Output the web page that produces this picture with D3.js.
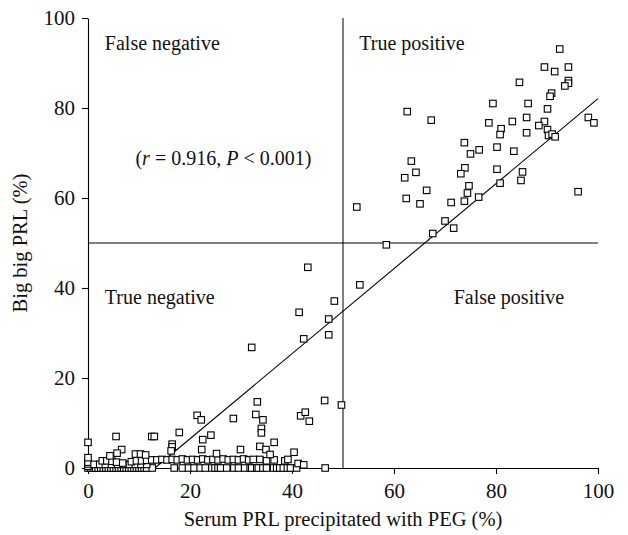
<!DOCTYPE html>
<html>
<head>
<meta charset="utf-8">
<script src="https://cdn.jsdelivr.net/npm/d3@7"></script>
<style>
  body { margin: 0; background: #fff; }
  svg { display: block; font-family: "Liberation Serif", "DejaVu Serif", serif; }
</style>
</head>
<body>
<svg id="chart" width="628" height="535"></svg>
<script>
// ---- data ----
// Serum PRL precipitated with PEG (%)
const pegValues = [
  // y = 0 row
  0,0.5,1,1.5,2,2.5,3,3.5,4,4.5,5,5.5,6,6.5,7,7.5,8,8.5,9,9.5,10,10.5,11,11.5,12.6,
  16.9,18.5,19.7,20.8,22.0,23.0,24.3,24.9,25.5,26.0,27.2,28.6,29.5,30.7,31.8,32.1,33.1,33.4,34.3,35.0,36.4,37.0,37.6,38.3,39.1,39.7,40.9,46.5,
  // y ~ 0.8 band
  0,0,0,1.2,2.3,3.4,4.6,5.8,7.0,8.1,9.3,10.4,11.5,
  // y ~ 1.6-2 row
  2.8,3.7,4.7,5.6,6.8,8.5,9.5,10.5,11.5,12.5,13.5,14.5,15.5,16.5,17.5,18.5,19.5,20.5,21.5,22.5,23.5,24.5,25.5,26.5,27.5,28.5,29.5,30.5,31.5,32.4,33.7,35.0,36.5,38.6,39.2,41.2,
  // scattered low values
  0,0,5.5,12.5,13.0,17.9,21.4,22.2,16.5,16.5,16.3,22.5,24.1,22.3,6.6,5.7,4.3,9.3,10.3,11.3,28.5,33.2,32.9,34.3,34.0,34.0,41.7,42.6,43.4,46.4,49.7,29.9,36.5,33.7,34.9,35.7,40.4,25.2,42.3,
  // mid values
  43.1,48.3,41.4,47.2,42.3,47.2,32.1,53.3,
  // high values
  92.5,89.5,91.5,94.2,94.2,94.2,93.5,84.6,90.9,90.6,79.4,86.3,90.1,62.6,67.3,98.1,99.2,78.6,83.2,86.0,
  89.5,88.4,81.0,80.8,86.0,90.1,90.3,91.0,91.6,73.8,76.7,75.0,80.2,83.5,63.4,64.3,62.1,73.9,73.1,80.2,
  85.2,84.9,80.8,74.7,74.4,66.4,76.6,62.4,65.1,71.2,73.8,96.1,52.7,70.0,71.7,67.6,58.5
];
// Big big PRL (%)
const bigBigValues = [
  0,0,0,0,0,0,0,0,0,0,0,0,0,0,0,0,0,0,0,0,0,0,0,0,0,
  0,0,0,0,0,0,0,0,0,0,0,0,0,0,0,0,0,0,0,0,0,0,0,0,0,0,0,0,
  0.4,0.9,1.3,0.8,0.8,0.8,0.8,0.8,0.8,0.8,0.8,0.8,0.8,
  1.6,1.6,1.5,1.3,1.1,1.4,1.6,1.6,1.7,1.8,1.8,1.9,1.8,1.9,1.8,2.0,1.8,1.9,1.8,2.0,1.8,1.9,1.8,2.0,1.8,1.9,1.8,2.0,1.8,1.9,1.9,1.6,1.8,1.6,1.9,1.0,
  5.7,2.3,7.0,7.0,7.0,7.9,11.7,10.7,5.3,4.7,3.8,6.3,7.3,4.1,4.1,3.3,2.7,3.1,3.1,2.9,11.0,14.7,11.9,10.7,8.8,7.8,11.6,12.4,10.4,15.0,14.0,4.1,5.7,4.8,4.1,3.0,3.5,3.2,0.7,
  44.6,37.1,34.6,33.1,28.7,29.6,26.8,40.7,
  93.1,89.1,88.1,89.1,86.1,85.5,84.9,85.7,83.3,82.6,81.0,81.0,79.8,79.2,77.3,77.9,76.7,76.7,77.0,77.9,
  77.0,76.1,75.4,74.1,74.5,75.2,73.9,74.2,73.6,72.3,70.7,69.8,71.3,70.4,68.2,65.7,64.5,66.7,65.4,66.4,
  65.8,63.9,63.3,62.7,61.1,61.7,60.2,59.9,58.7,59.0,59.3,61.4,58.0,54.9,53.3,52.1,49.6
];
// regression line (fitted): y = slope * x + intercept
const regression = { slope: 0.945, intercept: -12.4 };
const cutoff = 50;
const xTicks = [0, 20, 40, 60, 80, 100];
const yTicks = [0, 20, 40, 60, 80, 100];
const quadrantLabels = ["False negative", "True positive", "True negative", "False positive"];
const xTitle = "Serum PRL precipitated with PEG (%)";
const yTitle = "Big big PRL (%)";

// ---- drawing ----
const margin = { left: 88, top: 18, right: 30, bottom: 67 };
const W = 628, H = 535;
const iw = W - margin.left - margin.right;   // 510
const ih = H - margin.top - margin.bottom;   // 450

const svg = d3.select("#chart");
const g = svg.append("g").attr("transform", `translate(${margin.left},${margin.top})`);

const x = d3.scaleLinear().domain([0, 100]).range([0, iw]);
const y = d3.scaleLinear().domain([0, 100]).range([ih, 0]);

// quadrant lines
g.append("line").attr("x1", x(cutoff)).attr("x2", x(cutoff)).attr("y1", y(0)).attr("y2", y(100))
  .attr("stroke", "#000").attr("stroke-width", 1);
g.append("line").attr("x1", x(0)).attr("x2", x(100)).attr("y1", y(cutoff)).attr("y2", y(cutoff))
  .attr("stroke", "#000").attr("stroke-width", 1);

// regression line
const x0 = -regression.intercept / regression.slope;
g.append("line")
  .attr("x1", x(x0)).attr("y1", y(0))
  .attr("x2", x(100)).attr("y2", y(regression.slope * 100 + regression.intercept))
  .attr("stroke", "#000").attr("stroke-width", 1.1);

// axes
const xAxis = g.append("g").attr("transform", `translate(0,${ih})`)
  .call(d3.axisBottom(x).tickValues(xTicks).tickSize(6).tickSizeOuter(0).tickPadding(9));
const yAxis = g.append("g")
  .call(d3.axisLeft(y).tickValues(yTicks).tickSize(6).tickSizeOuter(0).tickPadding(7));
[xAxis, yAxis].forEach(a => {
  a.selectAll("path, line").attr("stroke", "#000").attr("stroke-width", 1.1);
  a.selectAll("text").attr("fill", "#111").style("font-family", "Liberation Serif, serif").style("font-size", "21px");
});

// points
const pts = pegValues.map((v, i) => [v, bigBigValues[i]]);
const s = 6.5;
g.append("g").selectAll("rect").data(pts).join("rect")
  .attr("x", d => x(d[0]) - s / 2)
  .attr("y", d => y(d[1]) - s / 2)
  .attr("width", s).attr("height", s)
  .attr("fill", "#fff").attr("stroke", "#000").attr("stroke-width", 1.1);

// quadrant labels
const lab = [
  { t: quadrantLabels[0], vx: 3.3, vy: 93 },
  { t: quadrantLabels[1], vx: 53.2, vy: 93 },
  { t: quadrantLabels[2], vx: 3.3, vy: 36.5 },
  { t: quadrantLabels[3], vx: 71.7, vy: 36.5 }
];
g.append("g").selectAll("text").data(lab).join("text")
  .attr("x", d => x(d.vx)).attr("y", d => y(d.vy))
  .attr("fill", "#111").style("font-size", "20px").text(d => d.t);

// r annotation
const ann = g.append("text").attr("x", x(9.3)).attr("y", y(67.3))
  .attr("fill", "#111").style("font-size", "20px");
ann.append("tspan").text("(");
ann.append("tspan").style("font-style", "italic").text("r");
ann.append("tspan").text(" = 0.916, ");
ann.append("tspan").style("font-style", "italic").text("P");
ann.append("tspan").text(" < 0.001)");

// axis titles
svg.append("text").attr("x", margin.left + iw / 2).attr("y", 526)
  .attr("text-anchor", "middle").attr("fill", "#111").style("font-size", "20.5px").text(xTitle);
svg.append("text").attr("transform", `translate(27,${margin.top + ih / 2}) rotate(-90)`)
  .attr("text-anchor", "middle").attr("fill", "#111").style("font-size", "20.5px").text(yTitle);
</script>
</body>
</html>
